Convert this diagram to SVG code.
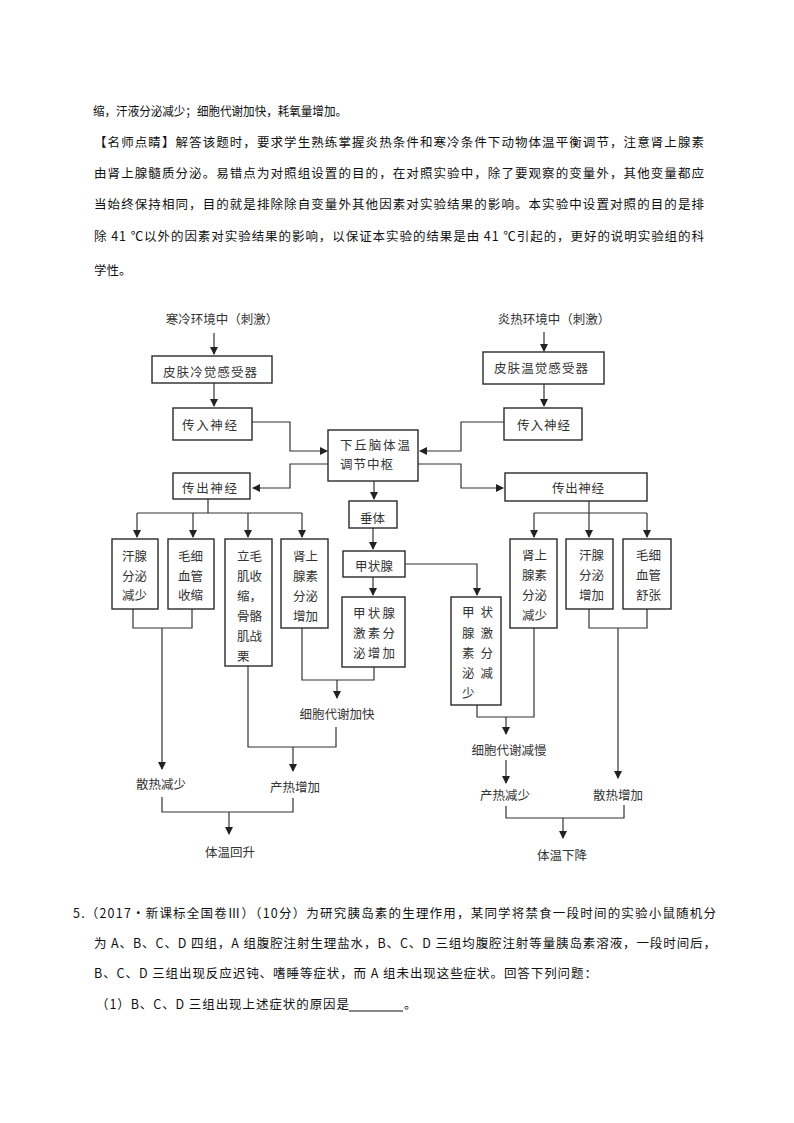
<svg xmlns="http://www.w3.org/2000/svg" width="794" height="1123" viewBox="0 0 794 1123">
<style>
.body{font-family:"Noto Sans CJK SC","Liberation Sans",sans-serif;font-size:12.5px;fill:#111}
.t{font-family:"Noto Sans CJK SC","Liberation Sans",sans-serif;font-size:12.5px;fill:#333}
.box{fill:#fff;stroke:#2a2a2a;stroke-width:1.4}
.ln{fill:none;stroke:#333;stroke-width:1.2}
.ar{fill:none;stroke:#333;stroke-width:1.2;marker-end:url(#ah)}
.c{text-anchor:middle}
</style>
<defs>
<marker id="ah" markerWidth="8" markerHeight="8" refX="7" refY="4" orient="auto" markerUnits="userSpaceOnUse">
<path d="M0,0 L8,4 L0,8 Z" fill="#222"/>
</marker>
</defs>
<rect width="794" height="1123" fill="#fff"/>

<g id="para">
<text class="body" x="93" y="116" textLength="254" lengthAdjust="spacingAndGlyphs">缩，汗液分泌减少；细胞代谢加快，耗氧量增加。</text>
<text class="body" x="94" y="147" textLength="610" lengthAdjust="spacing">【名师点睛】解答该题时，要求学生熟练掌握炎热条件和寒冷条件下动物体温平衡调节，注意肾上腺素</text>
<text class="body" x="94" y="178" textLength="610" lengthAdjust="spacing">由肾上腺髓质分泌。易错点为对照组设置的目的，在对照实验中，除了要观察的变量外，其他变量都应</text>
<text class="body" x="94" y="209" textLength="610" lengthAdjust="spacing">当始终保持相同，目的就是排除除自变量外其他因素对实验结果的影响。本实验中设置对照的目的是排</text>
<text class="body" x="94" y="241" textLength="610" lengthAdjust="spacing">除 41 ℃以外的因素对实验结果的影响，以保证本实验的结果是由 41 ℃引起的，更好的说明实验组的科</text>
<text class="body" x="94" y="275">学性。</text>
</g>

<g id="connectors">
<path class="ar" d="M214,333 V354"/>
<path class="ar" d="M214,383 V406"/>
<path class="ar" d="M544,332 V351"/>
<path class="ar" d="M544,384 V406"/>
<path class="ar" d="M252,422 H290 V451 H327"/>
<path class="ar" d="M504,422 H461 V451 H420"/>
<path class="ar" d="M328,464 H290 V488 H253"/>
<path class="ar" d="M418,464 H461 V488 H503"/>
<path class="ar" d="M374,481 V499"/>
<path class="ln" d="M208,499 V513 M137,513 H302"/>
<path class="ar" d="M137,513 V537"/>
<path class="ar" d="M193,513 V537"/>
<path class="ar" d="M248,513 V537"/>
<path class="ar" d="M302,513 V537"/>
<path class="ar" d="M373,528 V549"/>
<path class="ar" d="M373,577 V595"/>
<path class="ln" d="M589,501 V513 M534,513 H647"/>
<path class="ar" d="M534,513 V537"/>
<path class="ar" d="M589,513 V537"/>
<path class="ar" d="M647,513 V537"/>
<path class="ar" d="M405,564 H477 V595"/>
<path class="ln" d="M133,609 V628 H192 V609"/>
<path class="ar" d="M162,628 V769"/>
<path class="ln" d="M248,666 V747 H336 V727"/>
<path class="ar" d="M293,747 V771"/>
<path class="ln" d="M302,628 V680 H374 V667"/>
<path class="ar" d="M337,680 V698"/>
<path class="ln" d="M162,797 V812 H293 V798"/>
<path class="ar" d="M229,812 V834"/>
<path class="ln" d="M477,705 V717 H534 V628"/>
<path class="ar" d="M506,717 V734"/>
<path class="ar" d="M506,760 V783"/>
<path class="ln" d="M589,609 V628 H647 V609"/>
<path class="ar" d="M618,628 V778"/>
<path class="ln" d="M506,806 V818 H624 V805"/>
<path class="ar" d="M563,818 V838"/>
</g>

<g id="cold-stimulus"><text class="t c" x="222" y="324">寒冷环境中（刺激）</text></g>
<g id="hot-stimulus"><text class="t c" x="554" y="324">炎热环境中（刺激）</text></g>

<g id="cold-receptor"><rect class="box" x="152" y="356" width="120" height="27"/><text class="t" x="163" y="377" textLength="94">皮肤冷觉感受器</text></g>
<g id="warm-receptor"><rect class="box" x="483" y="352" width="121" height="32"/><text class="t" x="494" y="373" textLength="94">皮肤温觉感受器</text></g>

<g id="afferent-left"><rect class="box" x="173" y="408" width="79" height="32"/><text class="t" x="182" y="430" textLength="55">传入神经</text></g>
<g id="afferent-right"><rect class="box" x="504" y="408" width="78" height="32"/><text class="t" x="517" y="430" textLength="53">传入神经</text></g>

<g id="hypothalamus"><rect class="box" x="328" y="430" width="90" height="51"/><text class="t" x="340" y="450" textLength="70">下丘脑体温</text><text class="t" x="340" y="469" textLength="53">调节中枢</text></g>

<g id="efferent-left"><rect class="box" x="173" y="473" width="77" height="26"/><text class="t" x="182" y="493" textLength="55">传出神经</text></g>
<g id="efferent-right"><rect class="box" x="505" y="473" width="142" height="28"/><text class="t" x="552" y="493" textLength="52">传出神经</text></g>

<g id="pituitary"><rect class="box" x="349" y="501" width="48" height="27"/><text class="t" x="360" y="523">垂体</text></g>
<g id="thyroid"><rect class="box" x="343" y="551" width="62" height="26"/><text class="t" x="355" y="571" textLength="38">甲状腺</text></g>

<g id="sweat-dec"><rect class="box" x="112" y="539" width="46" height="70"/><text class="t" x="122" y="561">汗腺</text><text class="t" x="122" y="581">分泌</text><text class="t" x="122" y="600">减少</text></g>
<g id="cap-constrict"><rect class="box" x="168" y="539" width="46" height="70"/><text class="t" x="178" y="561">毛细</text><text class="t" x="178" y="581">血管</text><text class="t" x="178" y="600">收缩</text></g>
<g id="shiver"><rect class="box" x="225" y="539" width="47" height="127"/><text class="t" x="237" y="561">立毛</text><text class="t" x="237" y="581">肌收</text><text class="t" x="237" y="601">缩，</text><text class="t" x="237" y="621">骨骼</text><text class="t" x="237" y="641">肌战</text><text class="t" x="237" y="661">栗</text></g>
<g id="adrenaline-inc"><rect class="box" x="281" y="539" width="47" height="89"/><text class="t" x="293" y="561">肾上</text><text class="t" x="293" y="581">腺素</text><text class="t" x="293" y="601">分泌</text><text class="t" x="293" y="621">增加</text></g>
<g id="thyroxine-inc"><rect class="box" x="342" y="597" width="63" height="70"/><text class="t" x="353" y="618" textLength="42">甲状腺</text><text class="t" x="353" y="638" textLength="42">激素分</text><text class="t" x="353" y="658" textLength="42">泌增加</text></g>

<g id="thyroxine-dec"><rect class="box" x="451" y="597" width="50" height="108"/><text class="t" x="462" y="617" textLength="31">甲状</text><text class="t" x="462" y="638" textLength="31">腺激</text><text class="t" x="462" y="658" textLength="31">素分</text><text class="t" x="462" y="678" textLength="31">泌减</text><text class="t" x="462" y="698">少</text></g>
<g id="adrenaline-dec"><rect class="box" x="510" y="539" width="47" height="89"/><text class="t" x="522" y="560">肾上</text><text class="t" x="522" y="580">腺素</text><text class="t" x="522" y="600">分泌</text><text class="t" x="522" y="620">减少</text></g>
<g id="sweat-inc"><rect class="box" x="566" y="539" width="47" height="70"/><text class="t" x="579" y="560">汗腺</text><text class="t" x="579" y="580">分泌</text><text class="t" x="579" y="600">增加</text></g>
<g id="cap-dilate"><rect class="box" x="623" y="539" width="48" height="70"/><text class="t" x="636" y="560">毛细</text><text class="t" x="636" y="580">血管</text><text class="t" x="636" y="600">舒张</text></g>

<g id="metab-fast"><text class="t c" x="337" y="719">细胞代谢加快</text></g>
<g id="heat-loss-dec"><text class="t c" x="161" y="789">散热减少</text></g>
<g id="heat-prod-inc"><text class="t c" x="295" y="792">产热增加</text></g>
<g id="temp-rise"><text class="t c" x="230" y="857">体温回升</text></g>
<g id="metab-slow"><text class="t c" x="509" y="755">细胞代谢减慢</text></g>
<g id="heat-prod-dec"><text class="t c" x="505" y="800">产热减少</text></g>
<g id="heat-loss-inc"><text class="t c" x="618" y="800">散热增加</text></g>
<g id="temp-fall"><text class="t c" x="562" y="860">体温下降</text></g>

<g id="question">
<text class="body" x="73" y="918" textLength="643" lengthAdjust="spacing">5.（2017·新课标全国卷Ⅲ）（10分）为研究胰岛素的生理作用，某同学将禁食一段时间的实验小鼠随机分</text>
<text class="body" x="94" y="948" textLength="622" lengthAdjust="spacing">为 A、B、C、D 四组，A 组腹腔注射生理盐水，B、C、D 三组均腹腔注射等量胰岛素溶液，一段时间后，</text>
<text class="body" x="94" y="978" textLength="503" lengthAdjust="spacing">B、C、D 三组出现反应迟钝、嗜睡等症状，而 A 组未出现这些症状。回答下列问题：</text>
<text class="body" x="96" y="1009" textLength="253" lengthAdjust="spacing">（1）B、C、D 三组出现上述症状的原因是</text>
<line x1="349" y1="1011" x2="403" y2="1011" stroke="#111" stroke-width="1"/>
<text class="body" x="404" y="1009">。</text>
</g>
</svg>
